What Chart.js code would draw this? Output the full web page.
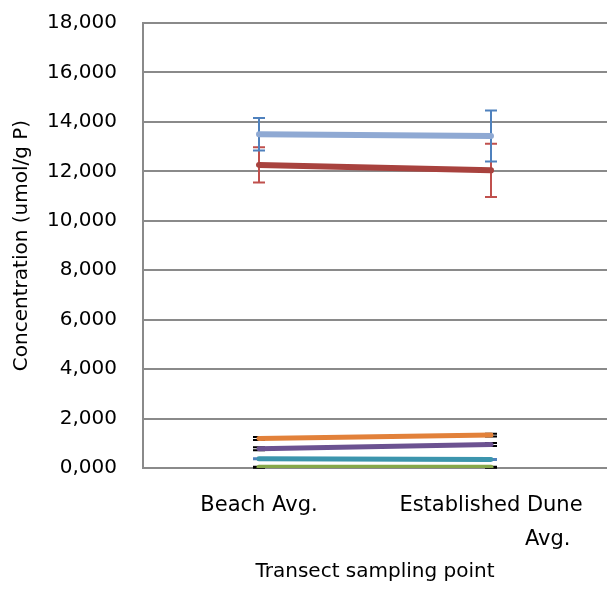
<!DOCTYPE html>
<html>
<head>
<meta charset="utf-8">
<script src="https://cdn.jsdelivr.net/npm/chart.js@4"></script>
<style>
  body { margin: 0; background: #fff; }
  #wrap { width: 607px; height: 590px; }
</style>
</head>
<body>
<div id="wrap"><canvas id="chart"></canvas></div>
<script>
// data (values in thousands, decimal comma on the axis)
const categories = ['Beach Avg.', ['Established Dune', '                 Avg.']];
const yTicks = [0, 2, 4, 6, 8, 10, 12, 14, 16, 18];

const blueVals = [13.50, 13.43];
const blueErr = [0.66, 1.03];
const redVals = [12.26, 12.04];
const redErr = [0.71, 1.08];
const orangeVals = [1.19, 1.33];
const orangeErr = [0.06, 0.06];
const purpleVals = [0.78, 0.95];
const purpleErr = [0.06, 0.06];
const tealVals = [0.37, 0.34];
const tealErr = [0.02, 0.02];
const greenVals = [0.03, 0.03];
const greenErr = [0.02, 0.02];

const FONT = "'DejaVu Sans', sans-serif";

// error bars drawn under the lines
const errorBars = {
  id: 'errorBars',
  beforeDatasetsDraw(chart) {
    const ctx = chart.ctx;
    const xs = chart.scales.x, ys = chart.scales.y;
    chart.data.datasets.forEach(ds => {
      if (!ds.errors) return;
      ctx.save();
      ctx.strokeStyle = ds.errorColor;
      ctx.lineWidth = 2;
      ds.data.forEach((v, i) => {
        const x = xs.getPixelForValue(i);
        const top = ys.getPixelForValue(v + ds.errors[i]);
        const bot = ys.getPixelForValue(v - ds.errors[i]);
        ctx.beginPath();
        ctx.moveTo(x, top); ctx.lineTo(x, bot);
        ctx.moveTo(x - 6, top); ctx.lineTo(x + 6, top);
        ctx.moveTo(x - 6, bot); ctx.lineTo(x + 6, bot);
        ctx.stroke();
      });
      ctx.restore();
    });
  }
};

function series(label, data, errors, color, errorColor, width) {
  return {
    label, data, errors, errorColor,
    borderColor: color,
    backgroundColor: color,
    borderWidth: width,
    borderCapStyle: 'round',
    pointRadius: 0,
    tension: 0,
    fill: false
  };
}

new Chart(document.getElementById('chart'), {
  type: 'line',
  data: {
    labels: categories,
    datasets: [
      series('Green', greenVals, greenErr, '#86A84A', '#000000', 5),
      series('Teal', tealVals, tealErr, '#3C95AD', '#4F81BD', 5),
      series('Purple', purpleVals, purpleErr, '#6C5291', '#000000', 5),
      series('Orange', orangeVals, orangeErr, '#E2813A', '#000000', 5),
      series('Red', redVals, redErr, '#A8423E', '#C0504D', 6),
      series('Blue', blueVals, blueErr, '#8FA9D3', '#4F81BD', 6)
    ]
  },
  options: {
    responsive: true,
    maintainAspectRatio: false,
    animation: false,
    layout: { padding: { left: 10, top: 23, right: 0, bottom: 0 } },
    plugins: { legend: { display: false }, tooltip: { enabled: false } },
    scales: {
      x: {
        offset: true,
        grid: { display: false },
        border: { display: false },
        afterFit(scale) {
          scale.height = 122;
          scale.paddingLeft = 0;
          scale.paddingRight = 0;
        },
        ticks: {
          color: '#000',
          font: { family: FONT, size: 21, lineHeight: 1.6 },
          padding: 13,
          maxRotation: 0,
          autoSkip: false
        },
        title: {
          display: true,
          text: 'Transect sampling point',
          color: '#000',
          font: { family: FONT, size: 20 },
          padding: { top: 4, bottom: 6 }
        }
      },
      y: {
        min: 0,
        max: 18,
        afterBuildTicks(scale) {
          scale.ticks = yTicks.map(v => ({ value: v }));
        },
        afterFit(scale) {
          scale.width = 133;
          scale.paddingTop = 0;
          scale.paddingBottom = 0;
        },
        grid: { color: '#8a8a8a', lineWidth: 2, drawTicks: false },
        border: { color: '#8a8a8a', width: 2 },
        ticks: {
          color: '#000',
          font: { family: FONT, size: 20 },
          padding: 26,
          callback: v => v.toFixed(3).replace('.', ',')
        },
        title: {
          display: true,
          text: 'Concentration (umol/g P)',
          color: '#000',
          font: { family: FONT, size: 20 },
          padding: { top: 0, bottom: 8 }
        }
      }
    }
  },
  plugins: [errorBars]
});
</script>
</body>
</html>
